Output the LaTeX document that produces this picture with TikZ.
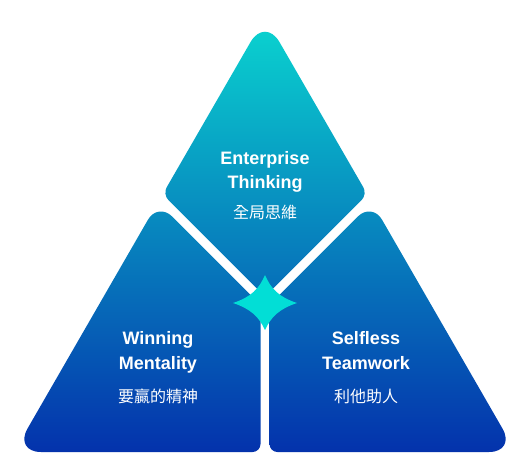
\documentclass[tikz,border=0pt]{standalone}
\usepackage{fontspec}
\setmainfont{Liberation Sans}
\newfontfamily\cjk{Noto Sans CJK TC}
\usetikzlibrary{calc}
\definecolor{topc}{RGB}{10,210,207}
\definecolor{midc}{RGB}{18,142,192}
\definecolor{botc}{RGB}{4,50,172}
\definecolor{starc}{RGB}{2,222,214}
\tikzset{
  en/.style={text=white,inner sep=0pt,anchor=base,font=\fontsize{18}{22}\selectfont\bfseries},
  zh/.style={text=white,inner sep=0pt,anchor=base,font=\fontsize{16}{20}\selectfont\cjk},
  grad/.style={top color=topc,middle color=midc,bottom color=botc,draw=none}
}
\begin{document}
\begin{tikzpicture}[x=1pt,y=-1pt]
\useasboundingbox (0,0) rectangle (530,474);
% vertices
\coordinate (T1) at (265,17);
\coordinate (T2) at (162.65,194.28);
\coordinate (T3) at (265,296.64);
\coordinate (T4) at (367.35,194.28);
\coordinate (L1) at (157.99,202.35);
\coordinate (L2) at (14,452);
\coordinate (L3) at (260.5,452);
\coordinate (L4) at (260.5,304.86);
\coordinate (R1) at (372.01,202.35);
\coordinate (R2) at (269.5,304.86);
\coordinate (R3) at (269.5,452);
\coordinate (R4) at (516,452);
% top shape
\begin{scope}
\clip ($(T1)!0.5!(T2)$) [rounded corners=8] -- (T2) [rounded corners=3] -- (T3) [rounded corners=8] -- (T4) [rounded corners=29] -- (T1) -- cycle;
\shade[grad] (0,25) rectangle (530,452);
\end{scope}
% left shape
\begin{scope}
\clip ($(L1)!0.5!(L2)$) [rounded corners=27] -- (L2) [rounded corners=8] -- (L3) [rounded corners=3] -- (L4) [rounded corners=20] -- (L1) -- cycle;
\shade[grad] (0,25) rectangle (530,452);
\end{scope}
% right shape
\begin{scope}
\clip ($(R1)!0.5!(R4)$) [rounded corners=27] -- (R4) [rounded corners=8] -- (R3) [rounded corners=3] -- (R2) [rounded corners=20] -- (R1) -- cycle;
\shade[grad] (0,25) rectangle (530,452);
\end{scope}
% star
\fill[starc] (233,303) .. controls (251,297) and (259,289) .. (265,275)
  .. controls (271,289) and (279,297) .. (297,303)
  .. controls (279,309) and (271,317) .. (265,330)
  .. controls (259,317) and (251,309) .. (233,303) -- cycle;
% texts
\node[en] (e1) at (265,164) {Enterprise};
\node[en] (e2) at (265,188) {Thinking};
\node[zh] (e3) at (265,218) {全局思維};
\node[en] (w1) at (158,344) {Winning};
\node[en] (w2) at (158,369) {Mentality};
\node[zh] (w3) at (158,402) {要贏的精神};
\node[en] (s1) at (366,344) {Selfless};
\node[en] (s2) at (366,369) {Teamwork};
\node[zh] (s3) at (366,402) {利他助人};
\end{tikzpicture}
\end{document}
